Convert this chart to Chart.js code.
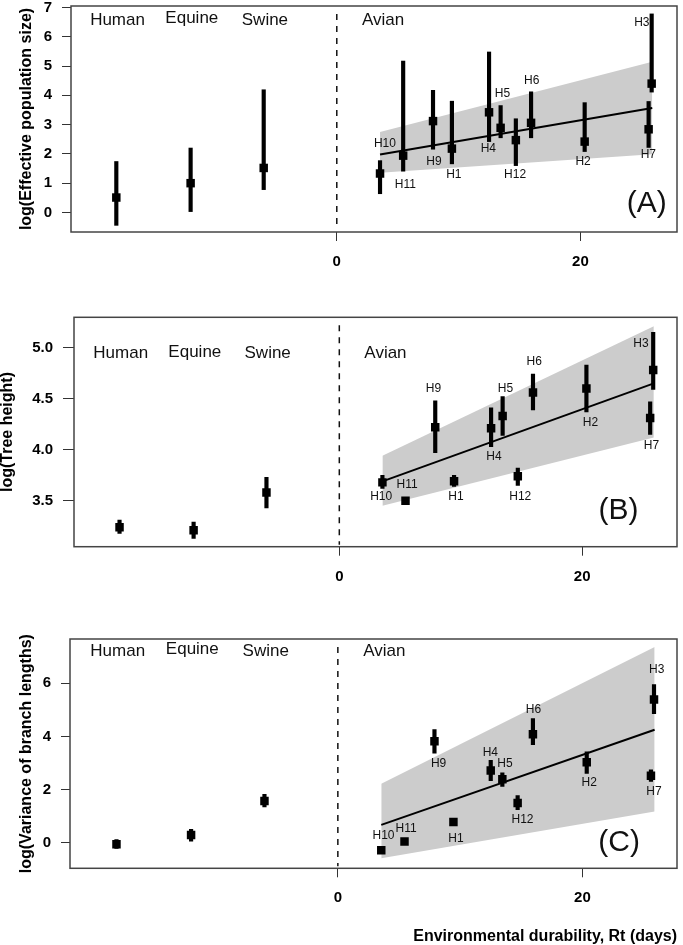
<!DOCTYPE html>
<html>
<head>
<meta charset="utf-8">
<script src="https://cdn.jsdelivr.net/npm/chart.js@4.4.0/dist/chart.umd.min.js"></script>
<style>
  body { margin: 0; background: #fff; }
  canvas { position: absolute; left: 0; }
</style>
</head>
<body>
<canvas id="chartA" width="683" height="300" style="top:0px"></canvas>
<canvas id="chartB" width="683" height="300" style="top:300px"></canvas>
<canvas id="chartC" width="683" height="345" style="top:600px"></canvas>
<script>
// categories
const hosts = ['Human', 'Equine', 'Swine'];
const hostRt = [-18.1, -12.0, -6.0];
const subtypes = ['H10', 'H11', 'H9', 'H1', 'H4', 'H5', 'H12', 'H6', 'H2', 'H7', 'H3'];
const avianRt = [3.55, 5.45, 7.9, 9.45, 12.5, 13.45, 14.7, 15.95, 20.35, 25.6, 25.85];
const groupNames = ['Human', 'Equine', 'Swine', 'Avian'];
const groupNameRt = [-18.0, -11.9, -5.9, 3.8];
const xTicks = [0, 20];
const fitRt = [3.55, 25.9];

// (A) effective population size  (hosts first, then avian subtypes)
const neMid = [0.51, 1.0, 1.52, 1.33, 1.94, 3.12, 2.18, 3.42, 2.89, 2.47, 3.06, 2.42, 2.84, 4.40];
const neLo  = [-0.44, 0.03, 0.78, 0.64, 1.41, 2.16, 1.66, 2.42, 2.55, 1.60, 2.55, 2.08, 2.22, 4.11];
const neHi  = [1.74, 2.20, 4.19, 1.77, 5.17, 4.17, 3.80, 5.48, 3.65, 3.20, 4.12, 3.75, 3.79, 6.78];
const neFit = [1.98, 3.57];
const neBandLo = [1.36, 1.99];
const neBandHi = [2.75, 5.15];
const neTicks = [0, 1, 2, 3, 4, 5, 6, 7];

// (B) tree height
const thMid = [3.24, 3.21, 3.58, 3.68, 3.50, 4.22, 3.69, 4.21, 4.33, 3.74, 4.56, 4.60, 4.31, 4.78];
const thLo  = [3.18, 3.13, 3.43, 3.62, 3.48, 3.97, 3.64, 4.03, 4.14, 3.65, 4.39, 4.37, 4.15, 4.59];
const thHi  = [3.31, 3.29, 3.73, 3.75, 3.52, 4.48, 3.75, 4.41, 4.52, 3.82, 4.74, 4.83, 4.47, 5.15];
const thFit = [3.69, 4.65];
const thBandLo = [3.45, 4.12];
const thBandHi = [3.94, 5.21];
const thTicks = [3.5, 4.0, 4.5, 5.0];

// (C) variance of branch lengths
const vbMid = [-0.06, 0.29, 1.57, -0.29, 0.04, 3.82, 0.78, 2.72, 2.39, 1.49, 4.08, 3.03, 2.52, 5.39];
const vbLo  = [-0.22, 0.06, 1.35, -0.36, -0.02, 3.37, 0.66, 2.33, 2.12, 1.24, 3.69, 2.61, 2.31, 4.86];
const vbHi  = [0.12, 0.50, 1.82, -0.20, 0.10, 4.26, 0.92, 3.10, 2.63, 1.77, 4.67, 3.42, 2.74, 5.95];
const vbFit = [0.67, 4.25];
const vbBandLo = [-0.59, 1.17];
const vbBandHi = [2.22, 7.37];
const vbTicks = [0, 2, 4, 6];

// label anchors (data units)
const labRtA = [3.95, 5.63, 7.98, 9.61, 12.44, 13.6, 14.64, 16.0, 20.22, 25.58, 25.04];
const labYA  = [2.36, 0.96, 1.74, 1.29, 2.17, 4.05, 1.29, 4.51, 1.74, 1.96, 6.47];
const labRtB = [3.45, 5.58, 7.76, 9.6, 12.73, 13.68, 14.9, 16.05, 20.68, 25.71, 24.84];
const labYB  = [3.54, 3.66, 4.60, 3.54, 3.93, 4.60, 3.54, 4.86, 4.26, 4.04, 5.04];
const labRtC = [3.73, 5.58, 8.24, 9.66, 12.47, 13.66, 15.1, 16.0, 20.55, 25.85, 26.07];
const labYC  = [0.26, 0.54, 2.96, 0.14, 3.40, 2.97, 0.88, 5.01, 2.26, 1.92, 6.52];

const FONT = "'Liberation Sans', Arial, Helvetica, sans-serif";

function points(xs, ys) { return xs.map((v, i) => ({ x: v, y: ys[i] })); }
function ranges(xs, lo, hi) { return xs.map((v, i) => ({ x: v, y: [lo[i], hi[i]] })); }

const panelDecor = {
  id: 'panelDecor',
  afterDatasetsDraw(chart, args, o) {
    const { ctx, chartArea: a, scales: { x, y } } = chart;
    ctx.save();
    // dashed divider at Rt = 0
    const x0 = x.getPixelForValue(0);
    ctx.strokeStyle = '#111';
    ctx.lineWidth = 1.5;
    ctx.setLineDash([6, 6]);
    ctx.beginPath();
    ctx.moveTo(x0, a.top + 8);
    ctx.lineTo(x0, a.bottom - 2);
    ctx.stroke();
    ctx.setLineDash([]);

    ctx.fillStyle = '#111';
    ctx.textAlign = 'center';
    ctx.textBaseline = 'middle';
    ctx.font = '17px ' + FONT;
    groupNames.forEach((t, i) => {
      ctx.fillText(t, x.getPixelForValue(groupNameRt[i]), y.getPixelForValue(o.groupY[i]));
    });
    ctx.font = '12px ' + FONT;
    subtypes.forEach((t, i) => {
      ctx.fillText(t, x.getPixelForValue(o.labRt[i]), y.getPixelForValue(o.labY[i]));
    });
    ctx.font = '30px ' + FONT;
    ctx.fillText(o.letter, x.getPixelForValue(o.letterRt), y.getPixelForValue(o.letterY));
    ctx.restore();
  },
  afterDraw(chart) {
    const { ctx, chartArea: a } = chart;
    ctx.save();
    ctx.strokeStyle = '#444';
    ctx.lineWidth = 1.5;
    ctx.strokeRect(a.left, a.top, a.right - a.left, a.bottom - a.top);
    ctx.restore();
  }
};

function makePanel(id, p) {
  const allRt = hostRt.concat(avianRt);
  const tickFont = { family: FONT, size: 15, weight: 'bold' };
  new Chart(document.getElementById(id), {
    type: 'scatter',
    data: {
      datasets: [
        { type: 'line', data: points(fitRt, p.bandLo), borderWidth: 0, pointRadius: 0, fill: false, order: 10 },
        { type: 'line', data: points(fitRt, p.bandHi), borderWidth: 0, pointRadius: 0, fill: '-1',
          backgroundColor: '#cccccc', order: 9 },
        { type: 'line', data: points(fitRt, p.fit), borderColor: '#000', borderWidth: 2, pointRadius: 0, order: 5 },
        { type: 'bar', data: ranges(allRt, p.lo, p.hi), backgroundColor: '#000', borderWidth: 0,
          barThickness: 3.5, grouped: false, order: 2 },
        { type: 'scatter', data: points(allRt, p.mid), pointStyle: 'rect', pointRadius: 6,
          backgroundColor: '#000', borderWidth: 0, order: 1 }
      ]
    },
    options: {
      responsive: false,
      devicePixelRatio: 1,
      animation: false,
      layout: { padding: { left: 0, top: p.area.top, right: p.w - p.area.right, bottom: 0 } },
      plugins: {
        legend: { display: false },
        tooltip: { enabled: false },
        panelDecor: p.decor
      },
      scales: {
        x: {
          type: 'linear', min: p.xMin, max: p.xMax, offset: false,
          afterBuildTicks: s => { s.ticks = xTicks.map(v => ({ value: v })); },
          afterFit: s => { s.height = p.h - p.area.bottom; s.paddingLeft = 0; s.paddingRight = 0; },
          grid: { drawOnChartArea: false, drawTicks: true, tickLength: 9, color: '#333', offset: false },
          border: { display: false },
          ticks: { font: tickFont, color: '#000', padding: 12, maxRotation: 0, autoSkip: false },
          title: p.xTitle ? {
            display: true, text: p.xTitle, align: 'end', color: '#000',
            font: { family: FONT, size: 16, weight: 'bold', lineHeight: 1 }, padding: { top: 0, bottom: 0 }
          } : { display: false }
        },
        y: {
          type: 'linear', min: p.yMin, max: p.yMax,
          afterBuildTicks: s => { s.ticks = p.yTicks.map(v => ({ value: v })); },
          afterFit: s => { s.width = p.area.left; s.paddingTop = 0; s.paddingBottom = 0; },
          grid: { drawOnChartArea: false, drawTicks: true, tickLength: p.yTickLen, color: '#333' },
          border: { display: false },
          ticks: { font: tickFont, color: '#000', padding: 10, autoSkip: false,
            callback: v => p.fmt ? Number(v).toFixed(1) : String(v) },
          title: {
            display: true, text: p.yTitle, color: '#000',
            font: { family: FONT, size: 16, weight: 'bold', lineHeight: 1 },
            padding: { top: p.yTitlePad, bottom: 0 }
          }
        }
      }
    },
    plugins: [panelDecor]
  });
}

makePanel('chartA', {
  w: 683, h: 300, area: { left: 71, top: 4, right: 680.5, bottom: 232 },
  xMin: -21.82, xMax: 27.93, yMin: -0.667, yMax: 7.05, yTicks: neTicks, yTickLen: 9,
  mid: neMid, lo: neLo, hi: neHi, fit: neFit, bandLo: neBandLo, bandHi: neBandHi,
  yTitle: 'log(Effective population size)', yTitlePad: 19,
  decor: { groupY: [6.57, 6.62, 6.57, 6.57], labRt: labRtA, labY: labYA, letter: '(A)', letterRt: 25.44, letterY: 0.3 }
});

makePanel('chartB', {
  w: 683, h: 300, area: { left: 74, top: 17.3, right: 681.5, bottom: 246.7 },
  xMin: -21.85, xMax: 27.81, yMin: 3.05, yMax: 5.297, yTicks: thTicks, yTickLen: 11, fmt: true,
  mid: thMid, lo: thLo, hi: thHi, fit: thFit, bandLo: thBandLo, bandHi: thBandHi,
  yTitle: 'log(Tree height)', yTitlePad: 0,
  decor: { groupY: [4.94, 4.95, 4.94, 4.94], labRt: labRtB, labY: labYB, letter: '(B)', letterRt: 23.0, letterY: 3.40 }
});

makePanel('chartC', {
  w: 683, h: 345, area: { left: 70, top: 39, right: 678, bottom: 268.3 },
  xMin: -21.9, xMax: 27.73, yMin: -0.966, yMax: 7.67, yTicks: vbTicks, yTickLen: 9,
  mid: vbMid, lo: vbLo, hi: vbHi, fit: vbFit, bandLo: vbBandLo, bandHi: vbBandHi,
  yTitle: 'log(Variance of branch lengths)', yTitlePad: 19,
  xTitle: 'Environmental durability, Rt (days)',
  decor: { groupY: [7.21, 7.27, 7.21, 7.21], labRt: labRtC, labY: labYC, letter: '(C)', letterRt: 23.0, letterY: -0.02 }
});
</script>
</body>
</html>
